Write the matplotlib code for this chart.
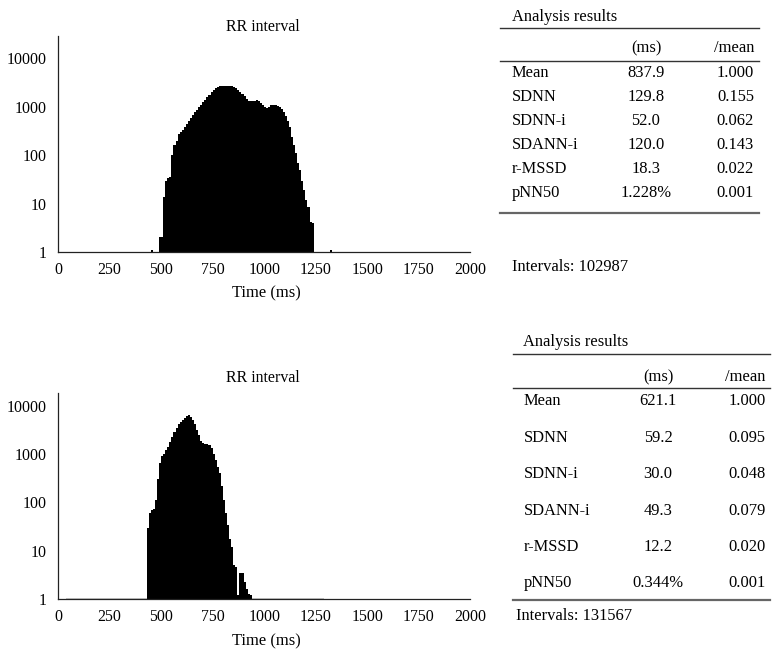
import matplotlib
matplotlib.use("Agg")
import matplotlib.pyplot as plt
from matplotlib.lines import Line2D
import numpy as np

plt.rcParams['font.family'] = ['Liberation Serif', 'DejaVu Serif']

# ---------------- data ----------------
bin_width = 10
top_edges = [450, 460, 470, 480, 490, 500, 510, 520, 530, 540, 550, 560, 570, 580, 590,
             600, 610, 620, 630, 640, 650, 660, 670, 680, 690, 700, 710, 720, 730, 740,
             750, 760, 770, 780, 790, 800, 810, 820, 830, 840, 850, 860, 870, 880, 890,
             900, 910, 920, 930, 940, 950, 960, 970, 980, 990, 1000, 1010, 1020, 1030,
             1040, 1050, 1060, 1070, 1080, 1090, 1100, 1110, 1120, 1130, 1140, 1150,
             1160, 1170, 1180, 1190, 1200, 1210, 1220, 1230, 1320]
top_counts = [1.1, 1, 1, 1, 2.1, 2.1, 14, 30, 34, 36, 100, 160, 200, 270, 300,
              340, 390, 450, 520, 600, 680, 780, 880, 1000, 1100, 1250, 1400, 1600, 1800, 2000,
              2200, 2400, 2600, 2700, 2750, 2750, 2700, 2750, 2700, 2650, 2600, 2450, 2250, 2050, 1850,
              1650, 1450, 1350, 1300, 1300, 1350, 1400, 1350, 1200, 1100, 1000, 950, 1000, 1100,
              1100, 1100, 1050, 1000, 900, 790, 650, 520, 390, 240, 160, 110,
              70, 50, 30, 19, 12, 8.7, 4.3, 4.0, 1.1]

bot_edges = [430, 440, 450, 460, 470, 480, 490, 500, 510, 520, 530, 540, 550, 560, 570,
             580, 590, 600, 610, 620, 630, 640, 650, 660, 670, 680, 690, 700, 710, 720,
             730, 740, 750, 760, 770, 780, 790, 800, 810, 820, 830, 840, 850, 860, 870,
             880, 890, 900, 910, 920, 930]
bot_counts = [30, 60, 71, 75, 114, 300, 650, 900, 1000, 1200, 1400, 1800, 2300, 2900, 3500,
              4100, 4700, 5100, 5500, 6000, 6300, 5800, 5100, 4200, 3200, 2500, 1900, 1700, 1650, 1600,
              1560, 1340, 1000, 770, 550, 400, 215, 114, 60, 35, 18, 12, 5.1, 4.6, 1.2,
              3.5, 3.5, 2.3, 1.6, 1.3, 1.2]

x_ticks = [0, 250, 500, 750, 1000, 1250, 1500, 1750, 2000]
y_ticks = [1, 10, 100, 1000, 10000]
y_ticklabels = ['1', '10', '100', '1000', '10000']

row_names = ['Mean', 'SDNN', 'SDNN-i', 'SDANN-i', 'r-MSSD', 'pNN50']
top_ms = ['837.9', '129.8', '52.0', '120.0', '18.3', '1.228%']
top_ratio = ['1.000', '0.155', '0.062', '0.143', '0.022', '0.001']
top_intervals = 102987
bot_ms = ['621.1', '59.2', '30.0', '49.3', '12.2', '0.344%']
bot_ratio = ['1.000', '0.095', '0.048', '0.079', '0.020', '0.001']
bot_intervals = 131567

# ---------------- figure ----------------
W, H = 781, 659
fig = plt.figure(figsize=(W / 100, H / 100), dpi=100)
FS = 11.4
FT = 11.9


def fx(px):
    return px / W


def fy(py):
    return 1 - py / H


def hist_axes(rect, edges, counts, ymax, title_y, xlabel_y):
    ax = fig.add_axes(rect)
    heights = np.array(counts, dtype=float) - 1
    ax.bar(edges, heights, bottom=1, width=bin_width, align='edge',
           color='black', edgecolor='none', linewidth=0)
    ax.set_yscale('log')
    ax.set_xlim(0, 2000)
    ax.set_ylim(1, ymax)
    ax.set_xticks(x_ticks)
    ax.set_xticklabels([str(t) for t in x_ticks], fontsize=FS)
    ax.set_yticks(y_ticks)
    ax.set_yticklabels(y_ticklabels, fontsize=FS)
    ax.yaxis.set_minor_locator(matplotlib.ticker.NullLocator())
    ax.tick_params(axis='x', length=0, pad=7)
    ax.tick_params(axis='y', length=0, pad=8)
    for s in ['top', 'right']:
        ax.spines[s].set_visible(False)
    for s in ['left', 'bottom']:
        ax.spines[s].set_color('#222222')
        ax.spines[s].set_linewidth(0.9)
    fig.text(fx(263), fy(title_y), 'RR interval', ha='center', va='center', fontsize=FS)
    fig.text(fx(266), fy(xlabel_y), 'Time (ms)', ha='center', va='center', fontsize=FT)
    return ax


ax1 = hist_axes([fx(58), fy(252.3), fx(412.3), (252.3 - 36) / H],
                top_edges, top_counts, 29000, 27, 293)
ax2 = hist_axes([fx(58), fy(599.3), fx(412.3), (599.3 - 393.3) / H],
                bot_edges, bot_counts, 18000, 378, 641)
ax2.fill_between([40, 1290], 1, 1.06, color='#c8c8c8', linewidth=0, zorder=0)


def hline(x0, x1, y, lw=1.0, color='#333333'):
    fig.add_artist(Line2D([fx(x0), fx(x1)], [fy(y), fy(y)], color=color, linewidth=lw))


def table(x_left, x_line0, x_line1, x_mid, x_right, y_title, y_l1, y_head, y_l2,
          row_ys, y_l3, y_int, ms, ratio, intervals, x_int, x_title):
    fig.text(fx(x_title), fy(y_title), 'Analysis results', ha='left', va='center', fontsize=FT)
    hline(x_line0, x_line1, y_l1)
    fig.text(fx(x_mid), fy(y_head), '(ms)', ha='center', va='center', fontsize=FT)
    fig.text(fx(x_right), fy(y_head), '/mean', ha='right', va='center', fontsize=FT)
    hline(x_line0, x_line1, y_l2)
    for name, m, r, yy in zip(row_names, ms, ratio, row_ys):
        fig.text(fx(x_left), fy(yy), name, ha='left', va='center', fontsize=FT)
        fig.text(fx(x_mid), fy(yy), m, ha='center', va='center', fontsize=FT)
        fig.text(fx(x_right), fy(yy), r, ha='right', va='center', fontsize=FT)
    hline(x_line0, x_line1, y_l3, lw=1.6, color='#666666')
    fig.text(fx(x_int), fy(y_int), f'Intervals: {intervals}', ha='left', va='center', fontsize=FT)


table(512, 500, 759, 646, 754, 16.7, 27.7, 48.3, 60.7,
      [72.7, 96.7, 121, 145, 169.3, 193.3], 213.3, 267, top_ms, top_ratio, top_intervals,
      512, 512)
table(524, 513, 770, 658, 765.5, 341.7, 354.3, 377.3, 388.3,
      [401, 437.7, 474.3, 510.7, 546.7, 583.3], 600, 616, bot_ms, bot_ratio, bot_intervals,
      516, 523)

fig.savefig('out.png', dpi=100, facecolor='white')
